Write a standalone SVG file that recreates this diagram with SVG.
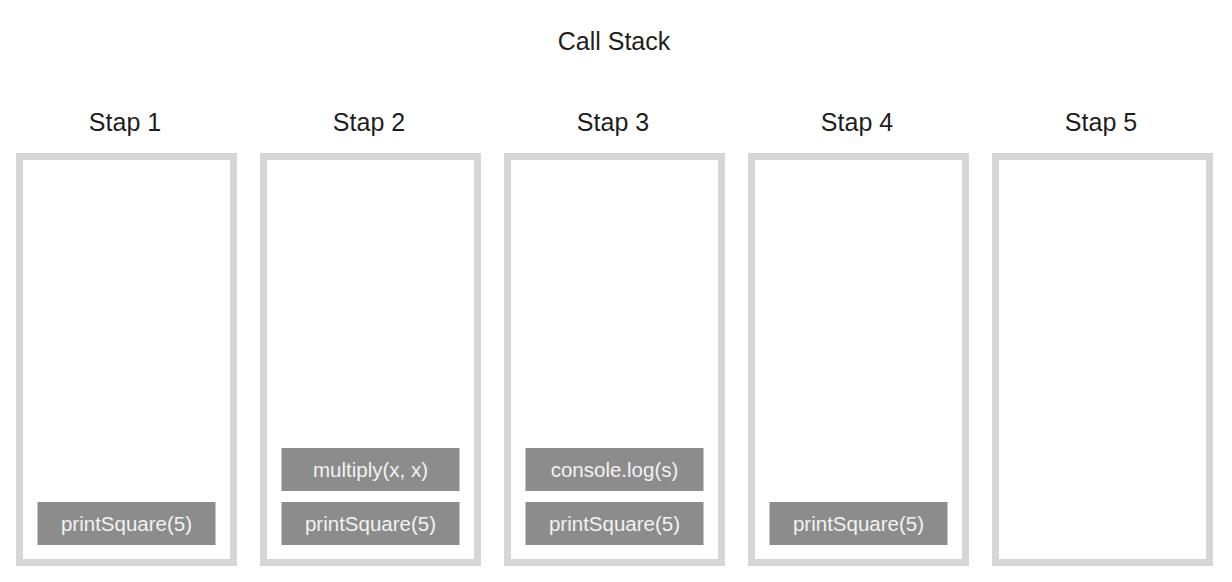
<svg xmlns="http://www.w3.org/2000/svg" width="1232" height="582" viewBox="0 0 1232 582">
<style>
.title{font-family:"Liberation Sans",Arial,sans-serif;font-size:25px;fill:#1e1e1e;text-anchor:middle}
.frame{fill:#fff;stroke:#d6d6d6;stroke-width:7}
.blk{fill:#8c8c8c}
.lbl{font-family:"Liberation Sans",Arial,sans-serif;font-size:20.5px;fill:#f2f2f2;text-anchor:middle}
</style>
<rect width="1232" height="582" fill="#fff"/>
<text class="title" x="614" y="49.5">Call Stack</text>
<g id="stap1">
<text class="title" x="125" y="131">Stap 1</text>
<rect class="frame" x="19.5" y="156.5" width="214" height="406"/>
<g id="s1-printSquare"><rect class="blk" x="37.5" y="502" width="178" height="43"/><text class="lbl" x="126.5" y="530.5">printSquare(5)</text></g>
</g>
<g id="stap2">
<text class="title" x="369" y="131">Stap 2</text>
<rect class="frame" x="263.5" y="156.5" width="214" height="406"/>
<g id="s2-multiply"><rect class="blk" x="281.5" y="448" width="178" height="43"/><text class="lbl" x="370.5" y="476.5">multiply(x, x)</text></g>
<g id="s2-printSquare"><rect class="blk" x="281.5" y="502" width="178" height="43"/><text class="lbl" x="370.5" y="530.5">printSquare(5)</text></g>
</g>
<g id="stap3">
<text class="title" x="613" y="131">Stap 3</text>
<rect class="frame" x="507.5" y="156.5" width="214" height="406"/>
<g id="s3-console"><rect class="blk" x="525.5" y="448" width="178" height="43"/><text class="lbl" x="614.5" y="476.5">console.log(s)</text></g>
<g id="s3-printSquare"><rect class="blk" x="525.5" y="502" width="178" height="43"/><text class="lbl" x="614.5" y="530.5">printSquare(5)</text></g>
</g>
<g id="stap4">
<text class="title" x="857" y="131">Stap 4</text>
<rect class="frame" x="751.5" y="156.5" width="214" height="406"/>
<g id="s4-printSquare"><rect class="blk" x="769.5" y="502" width="178" height="43"/><text class="lbl" x="858.5" y="530.5">printSquare(5)</text></g>
</g>
<g id="stap5">
<text class="title" x="1101" y="131">Stap 5</text>
<rect class="frame" x="995.5" y="156.5" width="214" height="406"/>
</g>
<g id="connectors"/>
</svg>
